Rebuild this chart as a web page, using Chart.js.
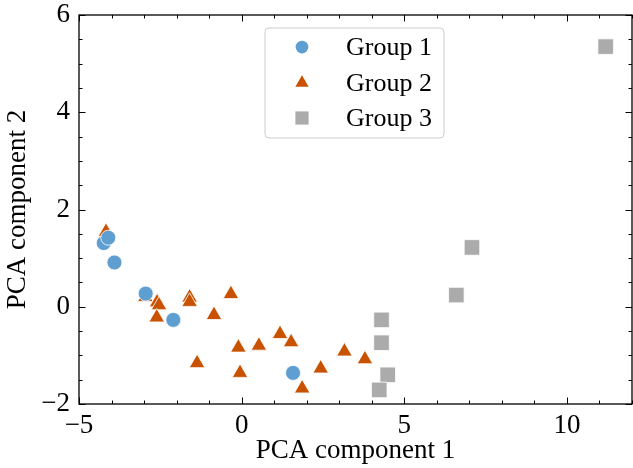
<!DOCTYPE html>
<html>
<head>
<meta charset="utf-8">
<script src="https://cdn.jsdelivr.net/npm/chart.js@4/dist/chart.umd.min.js"></script>
<style>
  html, body { margin: 0; padding: 0; background: #fff; }
  #wrap { width: 633px; height: 468px; }
</style>
</head>
<body>
<div id="wrap"><canvas id="c" width="633" height="468"></canvas></div>
<script>
// ---- data ----
const groupNames = ['Group 1', 'Group 2', 'Group 3'];
const g1x = [-4.24, -4.10, -3.91, -2.95, -2.10, 1.58];
const g1y = [1.31, 1.42, 0.91, 0.27, -0.27, -1.36];
const g2x = [-4.17, -2.96, -2.60, -2.54, -2.61, -1.60, -1.60, -0.85, -0.33, -1.37, -0.10, -0.05, 0.53, 1.18, 1.52, 1.86, 2.43, 3.16, 3.79];
const g2y = [1.54, 0.20, 0.09, 0.03, -0.22, 0.19, 0.10, -0.17, 0.26, -1.16, -0.84, -1.36, -0.80, -0.56, -0.73, -1.68, -1.27, -0.92, -1.08];
const g3x = [11.19, 7.08, 6.60, 4.30, 4.30, 4.49, 4.23];
const g3y = [5.35, 1.22, 0.24, -0.27, -0.74, -1.40, -1.71];
const xTickVals = [-5, 0, 5, 10];
const yTickVals = [-2, 0, 2, 4, 6];
const xTitle = 'PCA component 1';
const yTitle = 'PCA component 2';

const colors = ['#5F9ED1', '#C85200', '#ABABAB'];
const styles = ['circle', 'triangle', 'rect'];
const radii = [7.5, 9, 11];

const pts = (xs, ys) => xs.map((x, i) => ({ x: x, y: ys[i] }));
const FONT = "'Liberation Serif', 'Times New Roman', serif";
const fmt = v => (v < 0 ? '\u2212' + Math.abs(v) : String(v));

const frameTicks = {
  id: 'frameTicks',
  afterDatasetsDraw(chart) {
    const { ctx, chartArea: a, scales: { x, y } } = chart;
    ctx.save();
    ctx.strokeStyle = '#000';
    ctx.lineWidth = 1;
    const major = 6.5, minor = 3.5;
    ctx.beginPath();
    for (let v = Math.ceil(x.min); v <= x.max; v += 1) {
      const px = Math.round(x.getPixelForValue(v)) + 0.5;
      const L = xTickVals.includes(v) ? major : minor;
      ctx.moveTo(px, a.bottom); ctx.lineTo(px, a.bottom - L);
      ctx.moveTo(px, a.top); ctx.lineTo(px, a.top + L);
    }
    for (let v = y.min; v <= y.max + 1e-9; v += 0.5) {
      const py = Math.round(y.getPixelForValue(v)) + 0.5;
      const L = yTickVals.includes(v) ? major : minor;
      ctx.moveTo(a.left, py); ctx.lineTo(a.left + L, py);
      ctx.moveTo(a.right, py); ctx.lineTo(a.right - L, py);
    }
    ctx.stroke();
    ctx.lineWidth = 1.3;
    ctx.strokeRect(a.left, a.top, a.right - a.left, a.bottom - a.top);
    ctx.restore();
  }
};

const boxLegend = {
  id: 'boxLegend',
  afterDraw(chart) {
    const ctx = chart.ctx;
    const bx = 265, by = 28, bw = 179, bh = 110, r = 4;
    ctx.save();
    ctx.beginPath();
    ctx.moveTo(bx + r, by);
    ctx.arcTo(bx + bw, by, bx + bw, by + bh, r);
    ctx.arcTo(bx + bw, by + bh, bx, by + bh, r);
    ctx.arcTo(bx, by + bh, bx, by, r);
    ctx.arcTo(bx, by, bx + bw, by, r);
    ctx.closePath();
    ctx.fillStyle = 'rgba(255,255,255,0.8)';
    ctx.fill();
    ctx.strokeStyle = '#cccccc';
    ctx.lineWidth = 1;
    ctx.stroke();
    const rowsY = [47, 83, 118];
    chart.data.datasets.forEach((ds, i) => {
      ctx.fillStyle = ds.backgroundColor;
      ctx.strokeStyle = ds.backgroundColor;
      Chart.helpers.drawPoint(ctx, { pointStyle: ds.pointStyle, radius: ds.pointRadius * 0.85, rotation: 0, borderWidth: 0 }, 302, rowsY[i]);
      ctx.fillStyle = '#000';
      ctx.font = '26px ' + FONT;
      ctx.textBaseline = 'middle';
      ctx.textAlign = 'left';
      ctx.fillText(ds.label, 346, rowsY[i] + 1);
    });
    ctx.restore();
  }
};

const datasets = [pts(g1x, g1y), pts(g2x, g2y), pts(g3x, g3y)].map((d, i) => ({
  label: groupNames[i],
  data: d,
  pointStyle: styles[i],
  pointRadius: radii[i],
  pointHoverRadius: radii[i],
  backgroundColor: colors[i],
  borderColor: '#ffffff',
  borderWidth: 0.8,
  showLine: false
}));

const zeroPad = s => { s.paddingLeft = 0; s.paddingRight = 0; s.paddingTop = 0; s.paddingBottom = 0; };

new Chart(document.getElementById('c'), {
  type: 'scatter',
  data: { datasets },
  options: {
    responsive: false,
    animation: false,
    events: [],
    layout: { autoPadding: false, padding: { top: 15, right: 1, left: 0, bottom: 0 } },
    plugins: { legend: { display: false }, tooltip: { enabled: false } },
    scales: {
      x: {
        type: 'linear', min: -5, max: 12,
        afterBuildTicks: s => { s.ticks = xTickVals.map(v => ({ value: v })); },
        afterFit: s => { s.height = 64; zeroPad(s); },
        grid: { display: false, drawTicks: false },
        border: { display: false },
        ticks: { color: '#000', font: { family: FONT, size: 27 }, padding: 6, maxRotation: 0, callback: fmt },
        title: { display: true, text: xTitle, color: '#000', font: { family: FONT, size: 27 }, padding: { top: 0, bottom: 1 } }
      },
      y: {
        type: 'linear', min: -2, max: 6,
        afterBuildTicks: s => { s.ticks = yTickVals.map(v => ({ value: v })); },
        afterFit: s => { s.width = 79; zeroPad(s); },
        grid: { display: false, drawTicks: false },
        border: { display: false },
        ticks: { color: '#000', font: { family: FONT, size: 27 }, padding: 9, callback: fmt },
        title: { display: true, text: yTitle, color: '#000', font: { family: FONT, size: 27 }, padding: { top: 2, bottom: 0 } }
      }
    }
  },
  plugins: [frameTicks, boxLegend]
});
</script>
</body>
</html>
